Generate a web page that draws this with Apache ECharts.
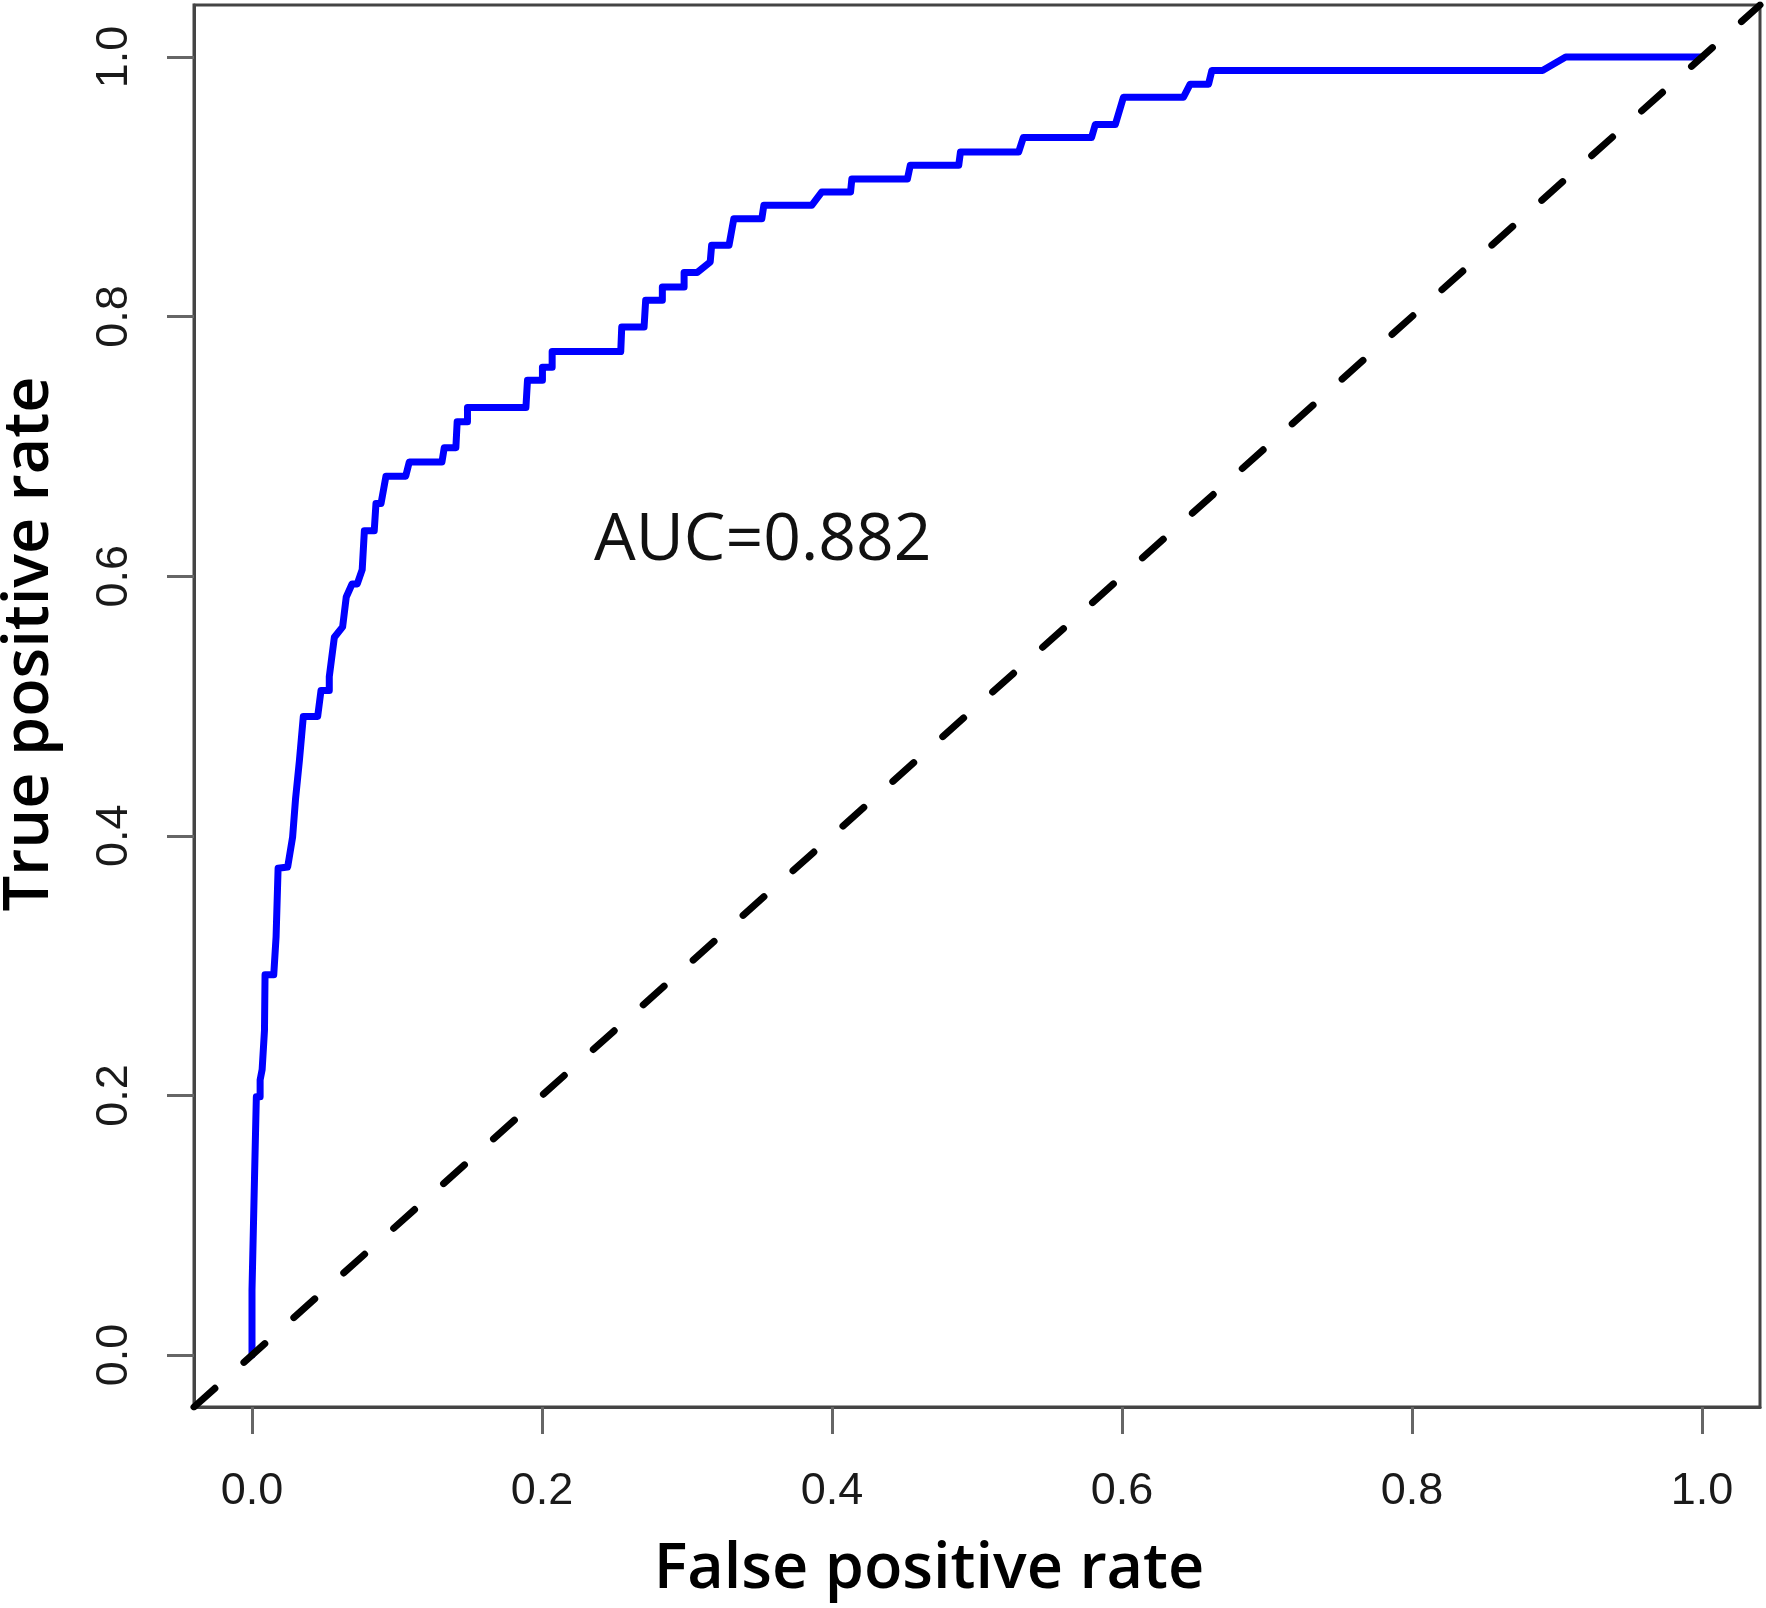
<!DOCTYPE html>
<html>
<head>
<meta charset="utf-8">
<script src="https://cdn.jsdelivr.net/npm/echarts@6.0.0/dist/echarts.min.js"></script>
<style>
  html, body { margin: 0; padding: 0; background: #fff; }
  #roc { width: 1766px; height: 1608px; }
</style>
</head>
<body>
<div id="roc"></div>
<script>
// ROC curve corners (false positive rate / true positive rate)
const fpr = [0, 0.000, 0.001, 0.002, 0.003, 0.0056, 0.0056, 0.007, 0.0086, 0.009, 0.015, 0.0166,
  0.018, 0.0246, 0.028, 0.030, 0.0327, 0.0354, 0.0453, 0.0476, 0.0533, 0.0533, 0.0568, 0.0625,
  0.065, 0.069, 0.0726, 0.076, 0.0775, 0.0843, 0.0855, 0.089, 0.0924, 0.106, 0.1085, 0.131,
  0.1326, 0.1406, 0.1415, 0.1486, 0.1486, 0.1889, 0.190, 0.2003, 0.2003, 0.207, 0.207, 0.2543,
  0.255, 0.2704, 0.2715, 0.283, 0.283, 0.298, 0.298, 0.307, 0.316, 0.317, 0.329, 0.3323,
  0.3516, 0.353, 0.386, 0.393, 0.4128, 0.4137, 0.452, 0.454, 0.4874, 0.4886, 0.5287, 0.532,
  0.579, 0.5816, 0.5954, 0.601, 0.6424, 0.647, 0.6597, 0.662, 0.890, 0.906, 1.0];
const tpr = [0, 0.05, 0.10, 0.15, 0.199, 0.199, 0.212, 0.22, 0.25, 0.293, 0.293, 0.322,
  0.375, 0.376, 0.399, 0.428, 0.458, 0.492, 0.492, 0.512, 0.512, 0.5226, 0.553, 0.561,
  0.584, 0.594, 0.594, 0.605, 0.635, 0.635, 0.656, 0.656, 0.677, 0.677, 0.688, 0.688,
  0.699, 0.699, 0.719, 0.719, 0.730, 0.730, 0.751, 0.751, 0.761, 0.761, 0.773, 0.773,
  0.792, 0.792, 0.8125, 0.8125, 0.8228, 0.8228, 0.834, 0.834, 0.842, 0.855, 0.855, 0.8754,
  0.8754, 0.8857, 0.8857, 0.896, 0.896, 0.906, 0.906, 0.9165, 0.9165, 0.9267, 0.9267, 0.938,
  0.938, 0.948, 0.948, 0.969, 0.969, 0.979, 0.979, 0.9896, 0.9896, 1.0, 1.0];

// chance line y = x, drawn across the whole plot region
const chanceX = [-0.04, 1.04];
const chanceY = [-0.04, 1.04];

const tickValues = [0, 0.2, 0.4, 0.6, 0.8, 1.0];
const tickLabels = ['0.0', '0.2', '0.4', '0.6', '0.8', '1.0'];

const xTitle = 'False positive rate';
const yTitle = 'True positive rate';
const aucText = 'AUC=0.882';

const rocData = fpr.map((x, i) => [x, tpr[i]]);
const chanceData = chanceX.map((x, i) => [x, chanceY[i]]);

const tickFont = "'Liberation Sans', Arial, sans-serif";
const titleFont = "'Open Sans', 'Noto Sans', sans-serif";

function labelFor (v) {
  const i = tickValues.findIndex(t => Math.abs(t - v) < 1e-9);
  return i >= 0 ? tickLabels[i] : '';
}

function makeAxis (extra) {
  return Object.assign({
    type: 'value',
    min: -0.04,
    max: 1.04,
    axisLine: { show: true, onZero: false, lineStyle: { color: '#444', width: 3 } },
    axisTick: {
      show: true,
      customValues: tickValues,
      length: 27,
      inside: false,
      lineStyle: { color: '#666', width: 3 }
    },
    splitLine: { show: false }
  }, extra);
}

const chart = echarts.init(document.getElementById('roc'), null, { renderer: 'canvas' });

const options = {
  animation: false,
  backgroundColor: '#fff',
  grid: {
    left: 194,
    top: 5,
    width: 1566,
    height: 1402,
    show: true,
    borderColor: '#444',
    borderWidth: 3,
    backgroundColor: 'transparent'
  },
  xAxis: makeAxis({
    position: 'bottom',
    axisLabel: {
      customValues: tickValues,
      formatter: labelFor,
      margin: 62,
      color: '#1a1a1a',
      fontSize: 45,
      fontFamily: tickFont
    }
  }),
  yAxis: makeAxis({
    position: 'left',
    axisLabel: {
      customValues: tickValues,
      formatter: labelFor,
      rotate: 90,
      margin: 57,
      color: '#1a1a1a',
      fontSize: 45,
      fontFamily: tickFont
    }
  }),
  series: [
    {
      name: 'ROC',
      type: 'line',
      data: rocData,
      showSymbol: false,
      symbol: 'none',
      clip: true,
      lineStyle: { color: '#0000ff', width: 7, join: 'round', cap: 'round' },
      z: 2
    },
    {
      name: 'chance',
      type: 'line',
      data: chanceData,
      showSymbol: false,
      symbol: 'none',
      clip: true,
      lineStyle: { color: '#000', width: 7, type: [28, 39], cap: 'round' },
      z: 3
    }
  ],
  graphic: [
    {
      type: 'text',
      left: 594,
      top: 508,
      style: {
        text: aucText,
        font: "400 66px " + titleFont,
        fill: '#111',
        verticalAlign: 'middle'
      }
    },
    {
      type: 'text',
      x: 929,
      y: 1570,
      style: {
        text: xTitle,
        font: "600 63px " + titleFont,
        fill: '#000',
        align: 'center',
        verticalAlign: 'middle'
      }
    },
    {
      type: 'text',
      x: 30,
      y: 644,
      rotation: Math.PI / 2,
      style: {
        text: yTitle,
        font: "600 63px " + titleFont,
        fill: '#000',
        align: 'center',
        verticalAlign: 'middle'
      }
    }
  ]
};

chart.setOption(options);
</script>
</body>
</html>
